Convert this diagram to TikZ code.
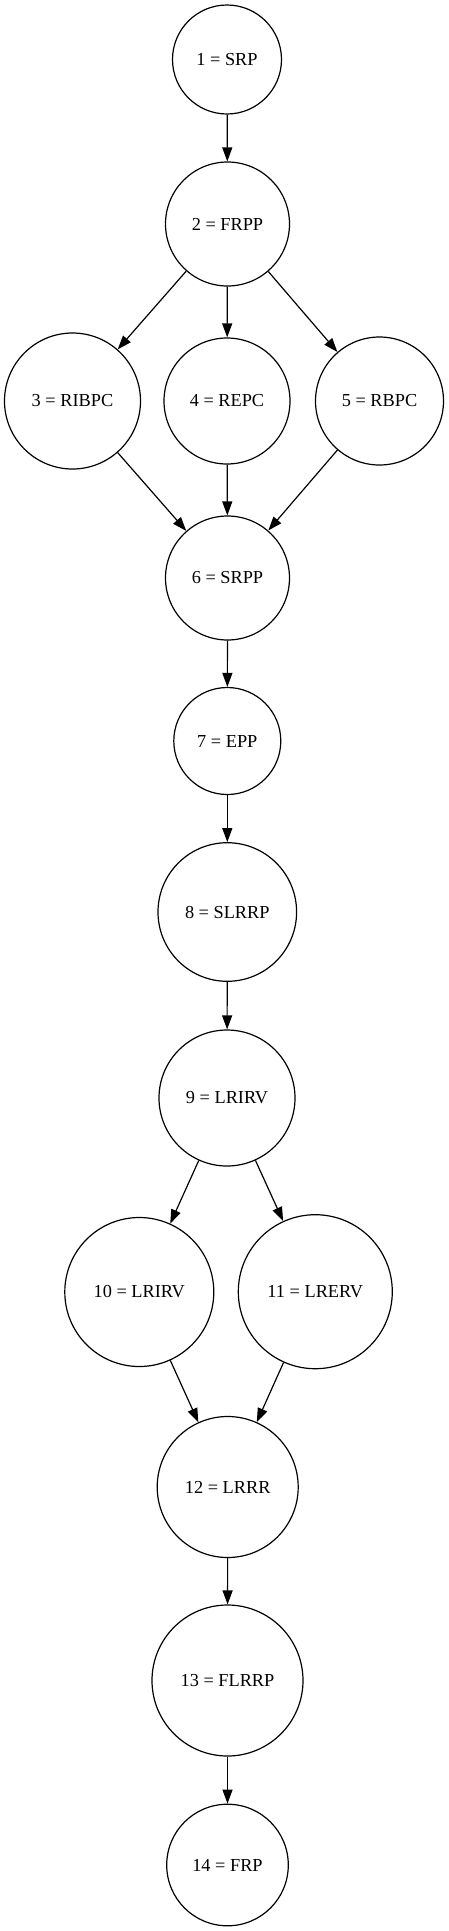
\documentclass[tikz,border=0pt]{standalone}
\usepackage{fontspec}
\setmainfont{Liberation Serif}
\usetikzlibrary{arrows.meta}
\begin{document}
\begin{tikzpicture}[x=1pt,y=-1pt,
  state/.style={circle,draw=black,line width=1.2pt,inner sep=0pt,font=\fontsize{18.3}{22}\selectfont},
  edge/.style={line width=1.2pt,-{Triangle[length=14pt,width=10pt]}}]
\useasboundingbox (0,0) rectangle (449,1931);
\node[state,minimum size=109pt] (n1) at (227,59.5) {1 = SRP};
\node[state,minimum size=124pt] (n2) at (227.5,224) {2 = FRPP};
\node[state,minimum size=136pt] (n3) at (72.5,401) {3 = RIBPC};
\node[state,minimum size=126pt] (n4) at (227,401) {4 = REPC};
\node[state,minimum size=128pt] (n5) at (379.5,401) {5 = RBPC};
\node[state,minimum size=124pt] (n6) at (227.5,578) {6 = SRPP};
\node[state,minimum size=107pt] (n7) at (227.3,741) {7 = EPP};
\node[state,minimum size=138.6pt] (n8) at (227.3,912) {8 = SLRRP};
\node[state,minimum size=136pt] (n9) at (227,1098) {9 = LRIRV};
\node[state,minimum size=149pt] (n10) at (139.3,1292) {10 = LRIRV};
\node[state,minimum size=154pt] (n11) at (315.3,1291.7) {11 = LRERV};
\node[state,minimum size=141pt] (n12) at (227.7,1487) {12 = LRRR};
\node[state,minimum size=151pt] (n13) at (227.5,1680.5) {13 = FLRRP};
\node[state,minimum size=121.6pt] (n14) at (227.5,1865) {14 = FRP};
\draw[edge] (n1) -- (n2);
\draw[edge] (n2) -- (n3);
\draw[edge] (n2) -- (n4);
\draw[edge] (n2) -- (n5);
\draw[edge] (n3) -- (n6);
\draw[edge] (n4) -- (n6);
\draw[edge] (n5) -- (n6);
\draw[edge] (n6) -- (n7);
\draw[edge] (n7) -- (n8);
\draw[edge] (n8) -- (n9);
\draw[edge] (n9) -- (n10);
\draw[edge] (n9) -- (n11);
\draw[edge] (n10) -- (n12);
\draw[edge] (n11) -- (n12);
\draw[edge] (n12) -- (n13);
\draw[edge] (n13) -- (n14);
\end{tikzpicture}
\end{document}
